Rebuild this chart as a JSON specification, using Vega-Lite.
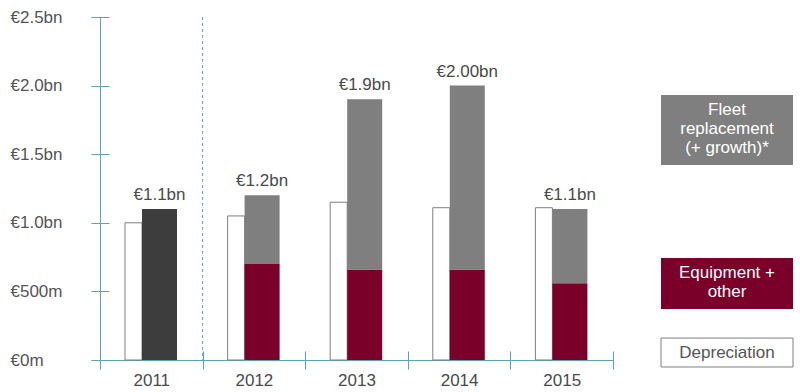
{
  "$schema": "https://vega.github.io/schema/vega-lite/v6.json",
  "padding": {"left": 10, "top": 8, "right": 5, "bottom": 5},
  "background": "white",
  "config": {"view": {"stroke": null}, "font": "Liberation Sans", "concat": {"spacing": 46}},
  "datasets": {
    "parts": [
      {"year": "2011", "series": "Total", "value": 1.10, "order": 0},
      {"year": "2012", "series": "Equipment + other", "value": 0.70, "order": 1},
      {"year": "2012", "series": "Fleet replacement (+ growth)*", "value": 0.50, "order": 2},
      {"year": "2013", "series": "Equipment + other", "value": 0.66, "order": 1},
      {"year": "2013", "series": "Fleet replacement (+ growth)*", "value": 1.24, "order": 2},
      {"year": "2014", "series": "Equipment + other", "value": 0.66, "order": 1},
      {"year": "2014", "series": "Fleet replacement (+ growth)*", "value": 1.34, "order": 2},
      {"year": "2015", "series": "Equipment + other", "value": 0.56, "order": 1},
      {"year": "2015", "series": "Fleet replacement (+ growth)*", "value": 0.54, "order": 2}
    ],
    "depreciation": [
      {"year": "2011", "value": 1.00},
      {"year": "2012", "value": 1.05},
      {"year": "2013", "value": 1.15},
      {"year": "2014", "value": 1.11},
      {"year": "2015", "value": 1.11}
    ],
    "totals": [
      {"year": "2011", "total": 1.10, "label": "€1.1bn"},
      {"year": "2012", "total": 1.20, "label": "€1.2bn"},
      {"year": "2013", "total": 1.90, "label": "€1.9bn"},
      {"year": "2014", "total": 2.00, "label": "€2.00bn"},
      {"year": "2015", "total": 1.10, "label": "€1.1bn"}
    ],
    "legend": [
      {"series": "Fleet replacement (+ growth)*", "lines": ["Fleet", "replacement", "(+ growth)*"], "top": 1.931, "bottom": 1.421},
      {"series": "Equipment + other", "lines": ["Equipment +", "other"], "top": 0.743, "bottom": 0.372},
      {"series": "Depreciation", "lines": ["Depreciation"], "top": 0.160, "bottom": -0.051}
    ]
  },
  "hconcat": [
    {
      "width": 513,
      "height": 343,
      "layer": [
        {
          "data": {"name": "depreciation"},
          "mark": {"type": "bar", "width": 17, "xOffset": -17.8, "fill": "white", "stroke": "#7f7f7f", "strokeWidth": 1},
          "encoding": {
            "x": {
              "field": "year", "type": "nominal",
              "scale": {"domain": ["2011", "2012", "2013", "2014", "2015"], "paddingInner": 0, "paddingOuter": 0},
              "axis": {
                "title": null, "tickBand": "extent", "tickSize": 9, "labelAngle": 0,
                "domainColor": "#5ba3b6", "tickColor": "#5ba3b6",
                "labelFontSize": 17, "labelColor": "#4a4a4a", "labelPadding": 3,
                "encoding": {"ticks": {"y": {"value": -9}}, "domain": {"x": {"value": -9}}}
              }
            },
            "y": {
              "field": "value", "type": "quantitative",
              "scale": {"domain": [0, 2.5], "nice": false},
              "axis": {
                "title": null, "values": [0, 0.5, 1, 1.5, 2, 2.5], "grid": false,
                "labelExpr": "datum.value == 0 ? '€0m' : datum.value == 0.5 ? '€500m' : '€' + format(datum.value, '.1f') + 'bn'",
                "domainColor": "#5ba3b6", "tickColor": "#5ba3b6", "tickSize": 9,
                "labelAlign": "left", "labelPadding": 81, "labelFontSize": 17, "labelColor": "#555555",
                "encoding": {"ticks": {"x": {"value": 9}}, "domain": {"y": {"value": 352}}}
              }
            }
          }
        },
        {
          "data": {"name": "parts"},
          "mark": {"type": "bar", "width": 35, "xOffset": 8.2},
          "encoding": {
            "x": {"field": "year", "type": "nominal"},
            "y": {"field": "value", "type": "quantitative", "stack": "zero"},
            "color": {
              "field": "series", "type": "nominal",
              "scale": {"domain": ["Total", "Equipment + other", "Fleet replacement (+ growth)*"], "range": ["#3d3d3d", "#7a0029", "#7f7f7f"]},
              "legend": null
            },
            "order": {"field": "order", "type": "quantitative"}
          }
        },
        {
          "data": {"name": "totals"},
          "mark": {"type": "text", "xOffset": 8.2, "dy": -9, "baseline": "alphabetic", "fontSize": 17, "color": "#4a4a4a"},
          "encoding": {
            "x": {"field": "year", "type": "nominal"},
            "y": {"field": "total", "type": "quantitative"},
            "text": {"field": "label"}
          }
        },
        {
          "data": {"values": [{}]},
          "mark": {"type": "rule", "strokeDash": [3, 3], "color": "#5ba3b6", "strokeWidth": 1},
          "encoding": {"x": {"datum": "2012", "type": "nominal", "bandPosition": 0}}
        }
      ]
    },
    {
      "width": 132,
      "height": 343,
      "data": {"name": "legend"},
      "layer": [
        {
          "mark": {"type": "rect", "strokeWidth": 1},
          "encoding": {
            "y": {"field": "top", "type": "quantitative", "scale": {"domain": [0, 2.5], "nice": false, "zero": false}, "axis": null},
            "y2": {"field": "bottom"},
            "fill": {
              "field": "series", "type": "nominal",
              "scale": {"domain": ["Fleet replacement (+ growth)*", "Equipment + other", "Depreciation"], "range": ["#7f7f7f", "#7a0029", "#ffffff"]},
              "legend": null
            },
            "stroke": {"condition": {"test": "datum.series === 'Depreciation'", "value": "#7f7f7f"}, "value": "transparent"}
          }
        },
        {
          "mark": {"type": "text", "fontSize": 17, "lineHeight": 19, "baseline": "middle", "align": "center", "dy": 15},
          "encoding": {
            "y": {"field": "top", "type": "quantitative"},
            "text": {"field": "lines"},
            "color": {"condition": {"test": "datum.series === 'Depreciation'", "value": "#555555"}, "value": "#ffffff"}
          }
        }
      ]
    }
  ]
}
